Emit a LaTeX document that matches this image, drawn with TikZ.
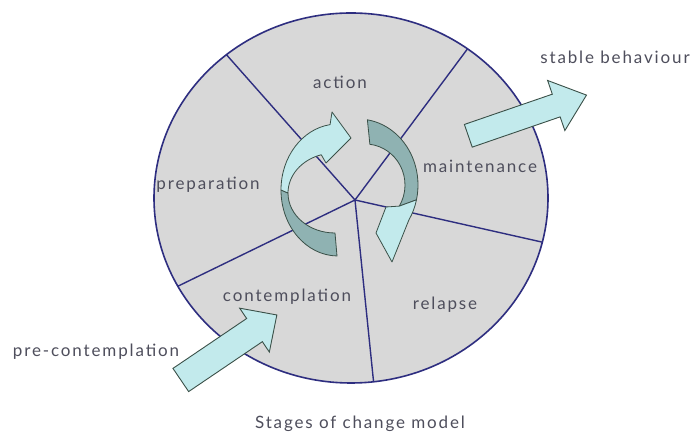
\documentclass[tikz,border=0pt]{standalone}
\usepackage{fontspec}
\newfontfamily\lab[LetterSpace=11]{Lato}
\usetikzlibrary{shapes.geometric,calc}
\definecolor{wheelfill}{HTML}{D8D8D8}
\definecolor{navy}{HTML}{2E2E80}
\definecolor{cyanlt}{HTML}{C2EAEC}
\definecolor{tealdk}{HTML}{8FB2B2}
\definecolor{arrline}{HTML}{3A5048}
\definecolor{txt}{HTML}{4E4E5C}
\tikzset{
  spoke/.style={draw=navy, line width=1.4pt},
  stagetext/.style={font=\lab\fontsize{17}{20}\selectfont, text=txt, inner sep=0pt},
  ribbon/.style={draw=arrline, line width=0.8pt, line join=round},
  lightpart/.style={ribbon, fill=cyanlt},
  darkpart/.style={ribbon, fill=tealdk},
  blockarrow/.style={draw=arrline, fill=cyanlt, line width=0.9pt, line join=miter},
  pics/blockarr/.style args={#1/#2/#3/#4}{code={
    \path[blockarrow] (0,-#2/2) -- (#1-#4,-#2/2) -- (#1-#4,-#3/2) -- (#1,0)
      -- (#1-#4,#3/2) -- (#1-#4,#2/2) -- (0,#2/2) -- cycle;
  }}
}
\begin{document}
\begin{tikzpicture}[x=1pt,y=1pt]
\useasboundingbox (0,0) rectangle (694,436);
\fill[white] (0,0) rectangle (694,436);
% wheel
\node[ellipse, draw=navy, fill=wheelfill, line width=1.6pt, minimum width=394pt,
      minimum height=370pt, inner sep=0pt, outer sep=0pt] (wheel) at (351,238) {};
\coordinate (hub) at (355,236);
\draw[spoke] (hub) -- (wheel.131.9);
\draw[spoke] (hub) -- (wheel.52);
\draw[spoke] (hub) -- (wheel.-13.5);
\draw[spoke] (hub) -- (wheel.-83.4);
\draw[spoke] (hub) -- (wheel.207.3);
% left circular arrow
\coordinate (OL) at (338,246);
\coordinate (IL) at (335,243);
\path[darkpart] ($(OL)+(-91:57 and 66)$)
  arc[start angle=-91, end angle=-180, x radius=57, y radius=66]
  -- ($(IL)+(180:47 and 40)$)
  arc[start angle=180, end angle=270, x radius=47, y radius=40] -- cycle;
\path[lightpart] ($(OL)+(180:57 and 66)$)
  arc[start angle=180, end angle=98, x radius=57, y radius=66]
  -- (332,324) -- (351,298) -- (326,273)
  -- ($(IL)+(107:47 and 40)$)
  arc[start angle=107, end angle=180, x radius=47, y radius=40] -- cycle;
% right circular arrow
\coordinate (OR) at (358,251);
\coordinate (IR) at (365,251);
\path[darkpart] ($(OR)+(81:60 and 66)$)
  arc[start angle=81, end angle=-13, x radius=60, y radius=66]
  -- ($(IR)+(-31:40 and 41)$)
  arc[start angle=-31, end angle=83, x radius=40, y radius=41] -- cycle;
\path[lightpart] ($(OR)+(-13:60 and 66)$)
  arc[start angle=-13, end angle=-32, x radius=60, y radius=66]
  -- (392,174) -- (376,203) -- (386,229)
  -- ($(IR)+(-31:40 and 41)$) -- cycle;
% block arrows
\pic[rotate=19] at (468.3,300.2) {blockarr=125/24/53/32};
\pic[rotate=34.1] at (180.8,56) {blockarr=116/28/53/27};
% texts
\node[stagetext] (action) at (340,354) {action};
\node[stagetext] (maint) at (480,270) {maintenance};
\node[stagetext] (prep) at (208,251) {preparation};
\node[stagetext] (contemp) at (287,139) {contemplation};
\node[stagetext] (relapse) at (445,131) {relapse};
\node[stagetext] (stable) at (615,379) {stable behaviour};
\node[stagetext] (precon) at (96,84) {pre-contemplation};
\node[stagetext] (caption) at (360,12) {Stages of change model};
\end{tikzpicture}
\end{document}
